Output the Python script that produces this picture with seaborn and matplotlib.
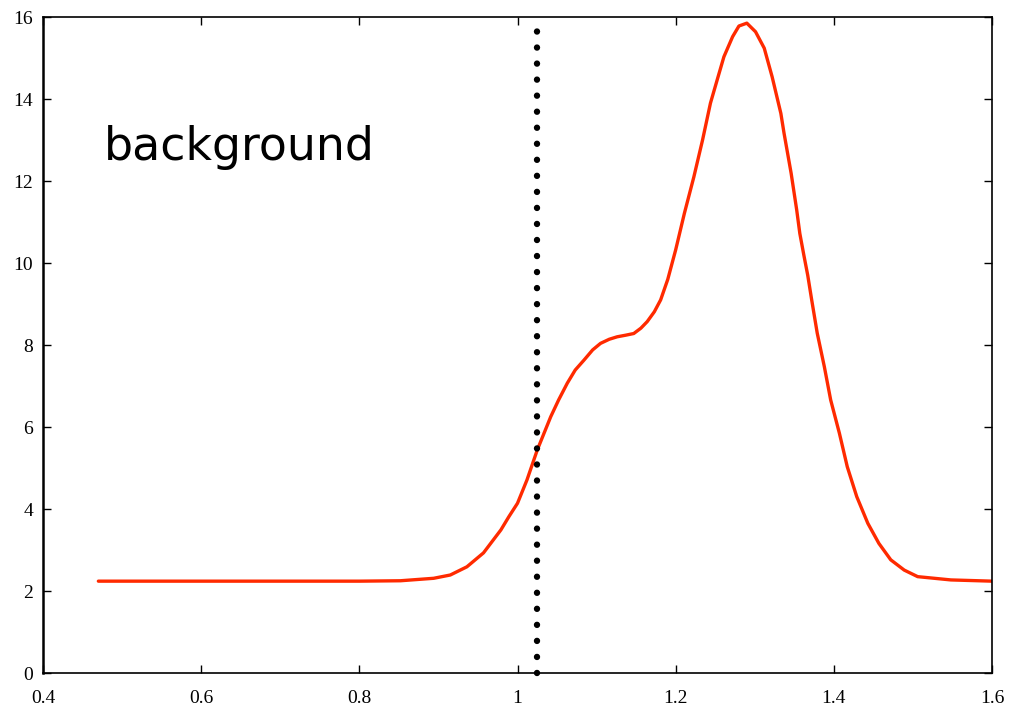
import matplotlib
matplotlib.use("Agg")
import matplotlib.pyplot as plt
import seaborn as sns
import pandas as pd

# Background spectrum sampled along x
x_vals = [0.470, 0.60, 0.70, 0.80, 0.852, 0.894, 0.915, 0.936, 0.957, 0.979,
          0.989, 1.000, 1.012, 1.025, 1.042, 1.052, 1.063, 1.073, 1.084, 1.095,
          1.105, 1.116, 1.126, 1.137, 1.147, 1.156, 1.164, 1.173, 1.181, 1.190,
          1.200, 1.211, 1.223, 1.234, 1.244, 1.253, 1.261, 1.272, 1.280, 1.290,
          1.301, 1.312, 1.322, 1.333, 1.337, 1.346, 1.353, 1.357, 1.362, 1.367,
          1.372, 1.379, 1.388, 1.396, 1.407, 1.417, 1.429, 1.443, 1.457, 1.472,
          1.489, 1.506, 1.548, 1.600]
y_vals = [2.24, 2.24, 2.24, 2.24, 2.25, 2.31, 2.39, 2.59, 2.93, 3.49,
          3.81, 4.14, 4.71, 5.44, 6.25, 6.66, 7.07, 7.39, 7.63, 7.88,
          8.04, 8.14, 8.20, 8.24, 8.28, 8.41, 8.57, 8.81, 9.10, 9.60,
          10.32, 11.21, 12.10, 13.00, 13.90, 14.50, 15.03, 15.52, 15.78, 15.85,
          15.64, 15.24, 14.54, 13.65, 13.17, 12.19, 11.30, 10.72, 10.20, 9.70,
          9.10, 8.29, 7.47, 6.66, 5.85, 5.03, 4.30, 3.65, 3.16, 2.76,
          2.51, 2.35, 2.27, 2.24]
cut_x = 1.025
label_text = "background"
x_ticks = [0.4, 0.6, 0.8, 1.0, 1.2, 1.4, 1.6]
x_tick_labels = ["0.4", "0.6", "0.8", "1", "1.2", "1.4", "1.6"]
y_ticks = [0, 2, 4, 6, 8, 10, 12, 14, 16]

sns.set_style("ticks")
plt.rcParams["font.family"] = ["Liberation Serif", "DejaVu Serif"]

fig = plt.figure(figsize=(10.09, 7.08), dpi=100)
ax = fig.add_axes([43 / 1009, 1 - 673 / 708, (992 - 43) / 1009, (673 - 17) / 708])

df = pd.DataFrame({"x": x_vals, "y": y_vals})
sns.lineplot(data=df, x="x", y="y", ax=ax, color="#ff2a00", linewidth=2.4,
             sort=False, estimator=None)

# dotted cut position
ax.plot([cut_x, cut_x], [0, 16], color="black", linewidth=4.6,
        linestyle=(0, (0.01, 2.5)), dash_capstyle="round", clip_on=False)

ax.set_xlim(0.4, 1.6)
ax.set_ylim(0, 16)
ax.set_xticks(x_ticks)
ax.set_xticklabels(x_tick_labels)
ax.set_yticks(y_ticks)
ax.set_xlabel("")
ax.set_ylabel("")

ax.tick_params(direction="in", length=6, width=1, top=True, right=True,
               labelsize=14, colors="black")
ax.tick_params(axis="x", pad=12)
ax.tick_params(axis="y", pad=7)
for side in ["top", "right", "bottom", "left"]:
    ax.spines[side].set_visible(True)
    ax.spines[side].set_linewidth(1.2)
    ax.spines[side].set_color("black")
ax.spines["left"].set_linewidth(1.8)

ax.text(0.477, 12.5, label_text, fontsize=33, family=["DejaVu Sans"],
        color="black", ha="left", va="baseline")

fig.savefig("out.png", dpi=100)
